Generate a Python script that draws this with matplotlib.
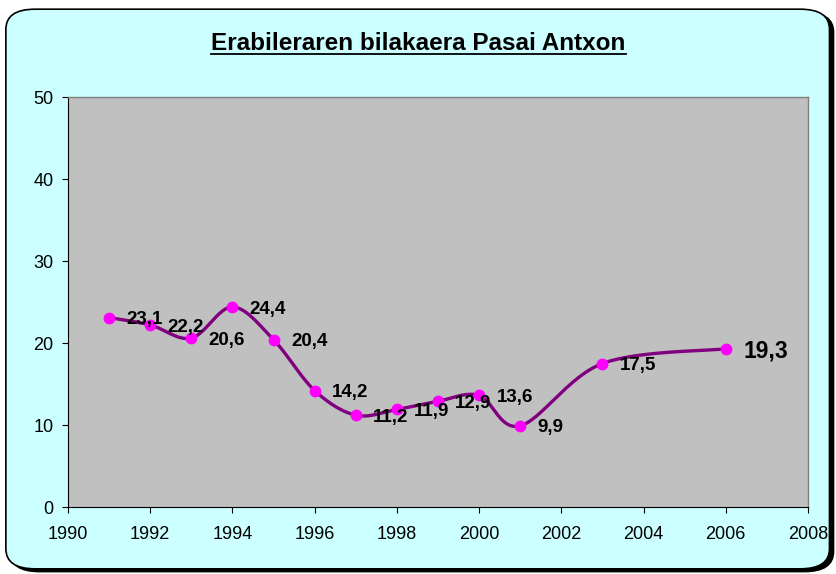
import numpy as np
import matplotlib
matplotlib.use('Agg')
import matplotlib.pyplot as plt
from matplotlib.patches import FancyBboxPatch

# Data
years = [1991, 1992, 1993, 1994, 1995, 1996, 1997, 1998, 1999, 2000, 2001, 2003, 2006]
values = [23.1, 22.2, 20.6, 24.4, 20.4, 14.2, 11.2, 11.9, 12.9, 13.6, 9.9, 17.5, 19.3]
labels = ['23,1', '22,2', '20,6', '24,4', '20,4', '14,2', '11,2', '11,9', '12,9',
          '13,6', '9,9', '17,5', '19,3']
title = 'Erabileraren bilakaera Pasai Antxon'
x_ticks = list(range(1990, 2009, 2))
y_ticks = [0, 10, 20, 30, 40, 50]

plt.rcParams['font.family'] = ['Liberation Sans', 'DejaVu Sans']


def smooth_curve(xs, ys, steps=30):
    """ Excel-style smoothed line: cubic Bezier segments with Catmull-Rom handles """
    pts = np.column_stack([xs, ys]).astype(float)
    n = len(pts)
    out = []
    for i in range(n - 1):
        p0 = pts[max(i - 1, 0)]
        p1 = pts[i]
        p2 = pts[i + 1]
        p3 = pts[min(i + 2, n - 1)]
        c1 = p1 + (p2 - p0) / 6.0
        c2 = p2 - (p3 - p1) / 6.0
        t = np.linspace(0, 1, steps)[:, None]
        seg = ((1 - t) ** 3) * p1 + 3 * ((1 - t) ** 2) * t * c1 \
            + 3 * (1 - t) * t ** 2 * c2 + t ** 3 * p2
        out.append(seg if i == 0 else seg[1:])
    curve = np.vstack(out)
    return curve[:, 0], curve[:, 1]


fig = plt.figure(figsize=(8.37, 5.74), dpi=100)
fig.patch.set_facecolor('white')

# rounded chart frame with shadow
shadow = FancyBboxPatch((0.012, 0.004), 0.984, 0.975, transform=fig.transFigure,
                        boxstyle='round,pad=0,rounding_size=0.035',
                        facecolor='black', edgecolor='black', zorder=0)
frame = FancyBboxPatch((0.007, 0.009), 0.984, 0.975, transform=fig.transFigure,
                       boxstyle='round,pad=0,rounding_size=0.035',
                       facecolor='#CCFFFF', edgecolor='black', linewidth=1.2, zorder=1)
fig.patches.extend([shadow, frame])

ax = fig.add_axes([0.0812, 0.1167, 0.8842, 0.7143])
ax.set_zorder(2)
ax.set_facecolor('#C0C0C0')

sx, sy = smooth_curve(years, values)
ax.plot(sx, sy, color='#800080', linewidth=2.4, solid_capstyle='round', zorder=3)
ax.plot(years, values, linestyle='none', marker='o', markersize=7.5,
        markerfacecolor='#FF00FF', markeredgecolor='#FF00FF', zorder=4)

for i, (x, y, lab) in enumerate(zip(years, values, labels)):
    big = i == len(years) - 1
    ax.annotate(lab, (x, y), xytext=(12.5, -1.5), textcoords='offset points',
                ha='left', va='center', fontsize=16.5 if big else 13.5,
                fontweight='bold', color='black', zorder=5)

ax.set_xlim(1990, 2008)
ax.set_ylim(0, 50)
ax.set_xticks(x_ticks)
ax.set_yticks(y_ticks)
ax.tick_params(axis='both', direction='out', length=4.5, width=0.8, labelsize=13,
               colors='black')
ax.tick_params(axis='x', pad=9)
ax.tick_params(axis='y', pad=6)
for side in ['left', 'bottom']:
    ax.spines[side].set_color('black')
    ax.spines[side].set_linewidth(0.8)
for side in ['top', 'right']:
    ax.spines[side].set_color('#808080')
    ax.spines[side].set_linewidth(1.0)

title_txt = fig.text(0.5, 0.9125, title, ha='center', va='baseline', fontsize=17.5,
                     fontweight='bold', zorder=5)
# underline the title along its own width
fig.canvas.draw()
bb = title_txt.get_window_extent().transformed(fig.transFigure.inverted())
fig.add_artist(plt.Line2D([bb.x0, bb.x1], [0.9055, 0.9055], color='black',
                          linewidth=1.3, transform=fig.transFigure, zorder=5))

fig.savefig('out.png', dpi=100, facecolor=fig.get_facecolor())
